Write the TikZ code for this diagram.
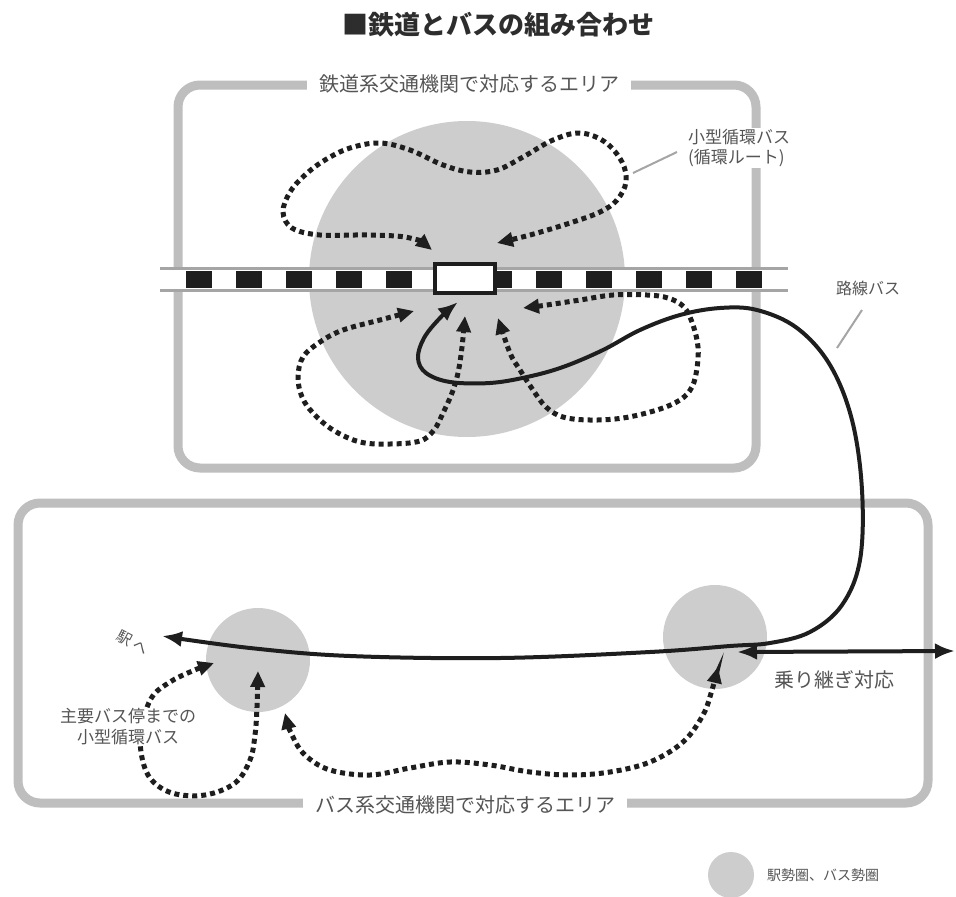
\documentclass[tikz,border=0pt]{standalone}
\usepackage{fontspec}
\setmainfont{Noto Sans CJK JP}
\usetikzlibrary{arrows.meta}
\definecolor{bordergray}{RGB}{190,190,190}
\definecolor{zonegray}{RGB}{205,205,205}
\definecolor{ink}{RGB}{30,30,30}
\definecolor{txtgray}{RGB}{85,85,85}
\definecolor{titlegray}{RGB}{45,45,45}
\definecolor{railgray}{RGB}{165,165,165}
\tikzset{
  zoneborder/.style={draw=bordergray, line width=9pt, rounded corners=22pt},
  zonelabel/.style={fill=white, text=txtgray, font=\fontsize{20}{24}\selectfont, inner xsep=12pt, inner ysep=3pt},
  zone/.style={circle, fill=zonegray, inner sep=0pt},
  dotroute/.style={draw=ink, line width=5pt, dash pattern=on 5pt off 4pt,
    {Triangle[length=16pt,width=14pt]}-{Triangle[length=16pt,width=14pt]}},
  busroute/.style={draw=ink, line width=4pt, {Latex[length=20pt,width=16pt]}-{Latex[length=20pt,width=16pt]}},
  leader/.style={draw=railgray, line width=2pt},
  lbl/.style={text=txtgray, inner sep=1pt},
  stationbox/.style={draw=ink, fill=white, line width=3.5pt, minimum width=60pt, minimum height=29pt, inner sep=0pt}
}
\begin{document}
\begin{tikzpicture}[x=1pt,y=-1pt]
\useasboundingbox (0,0) rectangle (956,897);
\fill[white] (0,0) rectangle (956,897);

% title
\node[text=titlegray, font=\fontsize{26}{30}\selectfont\bfseries] (title) at (498,25) {■鉄道とバスの組み合わせ};

% zone frames
\draw[zoneborder] (178,85) rectangle (756,468);
\draw[zoneborder] (18,503) rectangle (928,803);
\node[zonelabel] (raillabel) at (469,84) {鉄道系交通機関で対応するエリア};
\node[zonelabel] (buslabel) at (465,805) {バス系交通機関で対応するエリア};

% catchment circles
\node[zone, minimum size=316pt] (stationarea) at (467,279) {};
\node[zone, minimum size=104pt] (leftstop) at (258,660) {};
\node[zone, minimum size=104pt] (rightstop) at (715,637) {};

% railway
\fill[white] (160,268) rectangle (788,290);
\foreach \k in {0,...,11} \fill[ink] ({186+50*\k},271) rectangle +(26,17);
\draw[railgray, line width=3pt] (160,268) -- (788,268);
\draw[railgray, line width=3pt] (160,290) -- (788,290);
\node[stationbox] (station) at (465,278.5) {};

% endpoints
\coordinate (t1) at (432,250);
\coordinate (t2) at (497,243);
\coordinate (t3) at (414,311);
\coordinate (t4) at (465,316);
\coordinate (t5) at (523,308);
\coordinate (t6) at (498,318);
\coordinate (t7) at (458,302);
\coordinate (t8) at (162,636);
\coordinate (b1) at (214,663);
\coordinate (b2) at (258,671);
\coordinate (b3) at (285,713);
\coordinate (b4) at (718,667);
\coordinate (x1) at (737,652);
\coordinate (x2) at (955,651);

% small circular bus routes around station
\draw[dotroute] plot[smooth, tension=0.6] coordinates {(t1) (410,238) (370,235) (320,235) (292,228) (283,212) (290,192) (305,175) (325,160) (350,148) (380,143) (410,150) (443,165) (470,172) (497,170) (523,157) (553,140) (580,133) (605,142) (622,162) (626,182) (617,200) (600,212) (570,223) (530,235) (t2)};
\draw[dotroute] plot[smooth, tension=0.6] coordinates {(t3) (380,320) (343,330) (320,342) (303,357) (298,377) (302,397) (313,413) (333,430) (360,442) (390,444) (420,441) (434,430) (443,413) (452,393) (458,373) (462,347) (t4)};
\draw[dotroute] plot[smooth, tension=0.6] coordinates {(t5) (547,305) (580,300) (613,295) (647,295) (668,298) (684,307) (693,325) (698,347) (697,368) (692,387) (680,400) (657,410) (623,418) (590,420) (563,417) (546,407) (533,390) (520,370) (510,353) (t6)};

% line bus
\draw[busroute] plot[smooth, tension=0.6] coordinates {(t7) (440,318) (424,338) (418,358) (426,373) (450,382) (490,383) (527,377) (563,367) (603,350) (640,330) (680,315) (720,308) (757,310) (797,328) (830,365) (852,420) (862,490) (860,560) (842,605) (810,632) (770,643) (730,646) (650,652) (500,658) (350,656) (250,648) (t8)};

% bus-area small circular routes
\draw[dotroute] plot[smooth, tension=0.6] coordinates {(b1) (190,672) (170,682) (152,697) (142,725) (141,752) (150,778) (172,793) (205,795) (235,783) (250,760) (255,735) (257,707) (b2)};
\draw[dotroute] plot[smooth, tension=0.6] coordinates {(b3) (292,735) (305,755) (330,770) (370,775) (410,768) (450,762) (490,765) (530,772) (570,775) (610,772) (650,762) (683,742) (703,715) (712,690) (b4)};

% transfer arrow
\draw[busroute] (x1) -- (x2);

% labels
\node[lbl, fill=white, align=left, anchor=west, font=\fontsize{17}{20}\selectfont] (looplabel) at (687,148) {小型循環バス\\(循環ルート)};
\coordinate (la1) at (677,152);
\coordinate (la2) at (633,173);
\draw[leader] (la1) -- (la2);

\node[lbl, font=\fontsize{16}{19}\selectfont] (routelabel) at (868,288) {路線バス};
\coordinate (lb1) at (862,310);
\coordinate (lb2) at (837,348);
\draw[leader] (lb1) -- (lb2);

\node[lbl, rotate=-28, font=\fontsize{15}{18}\selectfont] (tolabel) at (133,643) {駅\kern3pt へ};
\node[lbl, fill=white, align=center, font=\fontsize{17}{21}\selectfont] (stoplabel) at (128,727) {主要バス停までの\\小型循環バス};
\node[lbl, font=\fontsize{20}{24}\selectfont] (transferlabel) at (834,680) {乗り継ぎ対応};

% legend
\node[zone, minimum size=46pt] (legendcircle) at (731,875) {};
\node[lbl, anchor=west, font=\fontsize{14}{17}\selectfont] (legendtext) at (766,875) {駅勢圏、バス勢圏};
\end{tikzpicture}
\end{document}
